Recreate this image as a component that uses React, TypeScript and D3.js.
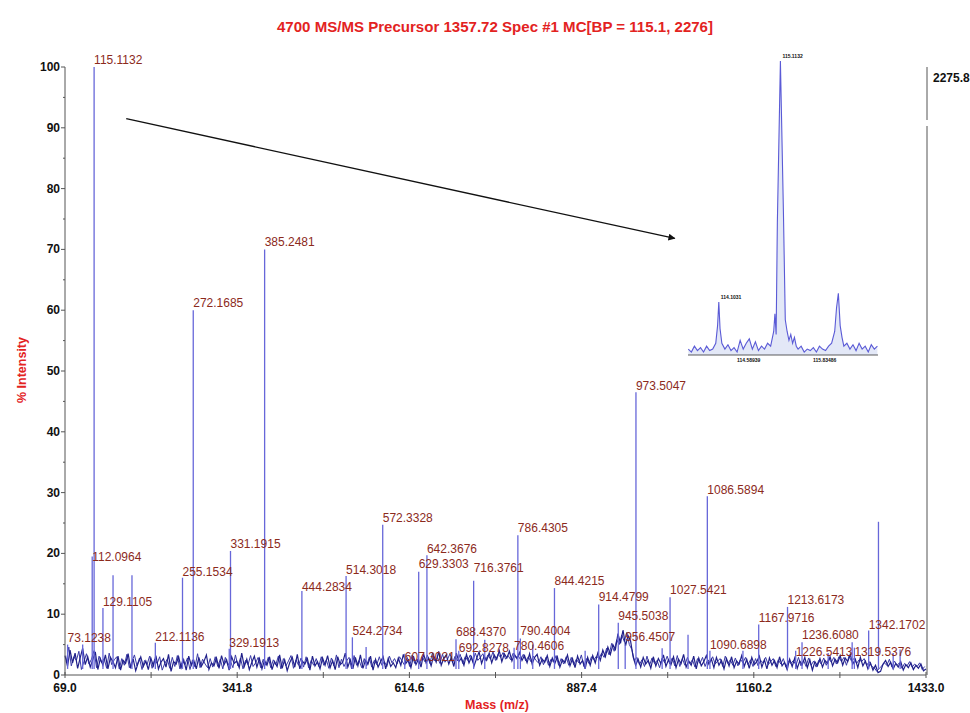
import React from 'react';
import * as d3 from 'd3';

const TITLE = '4700 MS/MS Precursor 1357.72 Spec #1 MC[BP = 115.1, 2276]';
const X_LABEL = 'Mass (m/z)';
const Y_LABEL = '% Intensity';
const X_TICKS = [69.0, 341.8, 614.6, 887.4, 1160.2, 1433.0];
const X_MINOR_STEP = 136.4;
const Y_TICKS = [0, 10, 20, 30, 40, 50, 60, 70, 80, 90, 100];
const MAX_COUNTS = '2275.8';

// baseline noise, one value per 4 m/z starting at 69
const NOISE_START = 69;
const NOISE_STEP = 4;
const noise = [
  3.2, 1.4, 4.1, 2.0, 3.6, 1.1, 2.8, 4.4, 1.7, 3.0, 1.3, 2.5, 3.8, 0.9, 2.7, 1.6, 3.3, 1.0, 2.9, 2.2,
  1.2, 3.1, 0.8, 2.4, 1.9, 3.5, 1.1, 2.6, 0.7, 2.0, 3.0, 1.4, 2.3, 0.9, 2.8, 1.5, 3.2, 1.0, 2.1, 2.7,
  1.3, 3.4, 0.6, 2.2, 1.8, 3.0, 1.2, 2.5, 0.8, 3.1, 1.6, 2.4, 1.0, 2.9, 1.4, 2.2, 3.3, 0.9, 2.0, 1.5,
  2.8, 1.1, 3.2, 1.7, 2.5, 0.8, 3.0, 1.9, 2.3, 1.2, 3.6, 1.4, 2.6, 0.9, 2.1, 3.1, 1.3, 2.7, 1.0, 2.4,
  1.6, 3.0, 0.9, 2.2, 1.4, 3.3, 1.1, 2.5, 0.7, 2.0, 2.9, 1.3, 3.4, 1.0, 2.3, 1.8, 2.7, 0.8, 3.1, 1.5,
  2.2, 1.0, 2.8, 1.6, 3.2, 1.2, 2.4, 0.9, 3.0, 1.7, 2.1, 3.6, 1.3, 2.5, 1.0, 2.9, 1.5, 3.3, 1.1, 2.4,
  1.8, 3.1, 0.8, 2.6, 1.3, 2.2, 3.0, 1.0, 2.7, 1.4, 2.0, 1.2, 2.8, 1.6, 3.4, 1.9, 2.5, 1.2, 3.1, 1.7,
  2.6, 1.3, 3.5, 2.0, 2.8, 1.5, 3.2, 2.1, 3.9, 1.6, 2.7, 3.3, 1.8, 2.9, 1.4, 3.6, 2.2, 2.8, 1.6, 3.4,
  2.0, 3.0, 1.5, 2.7, 3.8, 1.9, 3.1, 2.4, 3.6, 2.0, 3.3, 2.6, 4.0, 2.2, 3.5, 2.8, 3.9, 2.3, 3.4, 2.7,
  3.7, 2.4, 3.2, 2.0, 3.5, 1.8, 2.9, 3.4, 1.6, 2.6, 2.1, 3.2, 1.4, 2.8, 1.9, 3.0, 1.3, 2.5, 2.0, 3.3,
  1.5, 2.7, 1.2, 3.1, 1.8, 2.4, 1.0, 2.9, 1.6, 3.2, 2.0, 3.6, 2.4, 4.1, 3.0, 4.6, 3.4, 5.0, 4.2, 6.8,
  5.2, 7.4, 4.8, 6.5, 5.6, 3.0, 1.6, 2.6, 1.3, 2.9, 1.8, 2.4, 1.1, 3.0, 1.5, 2.7, 1.9, 3.3, 1.4, 2.5,
  1.7, 3.0, 1.2, 2.6, 1.9, 3.4, 1.3, 2.3, 1.6, 3.1, 1.0, 2.8, 1.5, 2.2, 3.2, 1.8, 2.6, 1.2, 2.9, 1.6,
  2.4, 1.0, 2.7, 1.5, 3.0, 1.2, 2.3, 1.8, 3.2, 1.4, 2.6, 1.1, 2.9, 1.7, 2.2, 3.1, 1.3, 2.5, 1.0, 2.8,
  1.6, 2.4, 1.2, 3.0, 1.5, 2.1, 0.9, 2.6, 1.4, 2.8, 1.1, 2.3, 1.7, 2.9, 1.2, 2.5, 0.8, 2.2, 1.5, 2.7,
  1.3, 2.4, 1.9, 3.0, 1.5, 2.6, 2.0, 3.2, 1.6, 2.8, 2.2, 3.4, 1.8, 2.6, 1.2, 2.9, 1.5, 2.3, 1.0, 2.0,
  0.8, 1.6, 0.4, 0.6, 1.8, 2.4, 1.4, 2.1, 1.0, 1.9, 1.3, 2.2, 0.8, 1.7, 1.2, 2.0, 0.9, 1.6, 1.1, 1.8, 0.7, 1.0,
];
// second, interleaved noise trace, one value per 4 m/z starting at 71
const NOISE2_START = 71;
const noise2 = [
  2.1, 4.6, 1.5, 3.0, 2.4, 3.9, 0.9, 2.2, 3.5, 1.8, 2.6, 4.0, 1.2, 3.1, 2.0, 2.7, 1.1, 3.6, 1.7, 2.5,
  3.0, 1.0, 2.7, 1.6, 3.4, 1.2, 2.2, 3.3, 1.5, 2.8, 0.9, 2.4, 1.7, 3.1, 1.1, 2.6, 1.9, 3.0, 0.8, 1.9,
  2.6, 1.1, 2.9, 1.4, 3.2, 1.0, 2.3, 1.7, 2.8, 0.9, 2.5, 1.3, 3.5, 1.2, 2.6, 1.8, 1.2, 2.7, 1.3, 3.0,
  1.4, 2.6, 1.0, 2.9, 1.6, 2.3, 1.2, 3.3, 1.5, 2.8, 1.0, 2.4, 1.7, 3.2, 1.4, 2.0, 2.9, 1.2, 2.6, 1.6,
  2.9, 1.2, 2.5, 1.7, 3.1, 1.0, 2.7, 1.5, 2.3, 3.2, 1.1, 2.5, 1.6, 2.8, 1.3, 3.0, 1.2, 2.4, 1.6, 2.7,
  1.4, 3.0, 1.6, 2.5, 1.1, 2.8, 1.5, 3.3, 1.2, 2.6, 1.4, 2.3, 2.9, 1.0, 3.2, 1.6, 2.4, 1.2, 2.7, 1.5,
  2.9, 1.3, 2.4, 1.7, 3.0, 1.6, 2.2, 1.4, 3.1, 2.0, 2.7, 1.8, 3.0, 2.3, 1.6, 2.9, 1.4, 3.3, 1.9, 2.6,
  1.8, 3.0, 2.2, 3.3, 1.9, 3.6, 2.3, 2.9, 1.9, 3.4, 2.1, 2.6, 3.5, 2.0, 3.1, 2.3, 3.4, 1.9, 3.0, 2.4,
  3.3, 2.1, 3.6, 2.4, 2.9, 3.5, 2.4, 3.3, 2.6, 3.8, 2.4, 3.4, 2.9, 3.7, 2.6, 3.2, 2.5, 3.6, 2.9, 3.1,
  2.5, 3.4, 2.3, 3.0, 2.2, 3.1, 2.4, 2.0, 3.0, 1.7, 2.9, 1.6, 2.6, 2.1, 3.2, 1.6, 2.7, 1.8, 3.0, 1.6,
  2.9, 1.7, 2.6, 2.0, 3.3, 1.4, 2.7, 1.9, 3.0, 2.5, 3.1, 2.7, 3.6, 2.9, 4.4, 3.3, 5.2, 3.9, 5.8, 5.0,
  6.6, 5.5, 7.0, 5.0, 4.2, 2.4, 2.9, 1.7, 2.5, 1.4, 3.1, 1.6, 2.8, 1.9, 2.4, 1.2, 2.8, 2.0, 3.1, 1.8,
  2.8, 1.5, 3.2, 1.4, 2.7, 1.6, 2.9, 1.9, 2.5, 1.3, 2.7, 1.9, 2.9, 1.4, 2.5, 2.1, 3.0, 1.8, 2.3, 2.7,
  1.4, 3.1, 1.9, 2.5, 1.6, 2.8, 1.5, 2.6, 2.0, 2.9, 1.7, 2.5, 1.4, 2.7, 1.5, 2.4, 2.0, 2.9, 1.7, 2.2,
  2.7, 1.4, 2.5, 1.8, 2.7, 1.3, 2.3, 1.9, 2.4, 1.6, 2.9, 1.5, 2.4, 1.4, 2.8, 1.6, 2.3, 1.3, 2.4, 1.8,
  2.8, 1.6, 2.7, 2.1, 2.9, 1.8, 3.0, 2.2, 2.9, 1.6, 3.1, 2.3, 2.7, 1.9, 2.5, 2.2, 2.7, 1.6, 2.2, 1.4,
  1.2, 0.6, 1.1, 1.5, 2.0, 1.6, 2.6, 1.3, 2.3, 1.6, 2.0, 1.1, 1.9, 1.5, 2.2, 1.3, 1.8, 1.4, 2.0, 0.9, 1.4,
];

// labelled peaks: m/z, % intensity, level (in %) at which the software placed the label
const labelledMz = [
  73.1238, 112.0964, 115.1132, 129.1105, 212.1136, 255.1534, 272.1685, 329.1913, 331.1915, 385.2481,
  444.2834, 514.3018, 524.2734, 572.3328, 607.3021, 629.3303, 642.3676, 688.437, 692.8278, 716.3761,
  780.4606, 786.4305, 790.4004, 844.4215, 914.4799, 945.5038, 956.4507, 973.5047, 1027.5421, 1086.5894,
  1090.6898, 1167.9716, 1213.6173, 1226.5413, 1236.608, 1319.5376, 1342.1702,
];
const labelledInt = [
  5.0, 19.5, 100, 11.0, 5.3, 16.0, 60.0, 4.3, 20.4, 70.0,
  13.8, 16.3, 6.2, 24.7, 3.5, 17.0, 19.7, 5.9, 4.0, 15.5,
  4.5, 23.0, 6.0, 14.3, 11.6, 8.6, 5.0, 46.5, 12.8, 29.4,
  4.0, 8.3, 11.2, 4.0, 5.4, 4.5, 7.3,
];
const labelLevel = [
  4.9, 18.2, 100, 10.9, 5.1, 15.8, 60.0, 4.1, 20.4, 70.0,
  13.3, 16.2, 6.1, 24.7, 1.8, 17.1, 19.6, 5.9, 3.3, 16.4,
  3.6, 23.0, 6.1, 14.3, 11.7, 8.6, 5.1, 46.4, 12.8, 29.2,
  3.8, 8.2, 11.2, 2.6, 5.4, 2.6, 7.1,
];
const labelText = [
  '73.1238', '112.0964', '115.1132', '129.1105', '212.1136', '255.1534', '272.1685', '329.1913', '331.1915', '385.2481',
  '444.2834', '514.3018', '524.2734', '572.3328', '607.3021', '629.3303', '642.3676', '688.4370', '692.8278', '716.3761',
  '780.4606', '786.4305', '790.4004', '844.4215', '914.4799', '945.5038', '956.4507', '973.5047', '1027.5421', '1086.5894',
  '1090.6898', '1167.9716', '1213.6173', '1226.5413', '1236.6080', '1319.5376', '1342.1702',
];

// unlabelled peaks
const otherMz = [97, 145.1, 175.1, 546, 734, 810, 893, 1015, 1056, 1143, 1278, 1316, 1357.7, 1381, 1392];
const otherInt = [5.0, 16.4, 16.4, 4.6, 5.8, 5.0, 4.0, 4.4, 6.6, 4.0, 3.6, 5.4, 25.2, 3.6, 4.2];

// zoom inset (115.1132 region)
const insetMz = [
  113.6, 113.65, 113.7, 113.75, 113.8, 113.85, 113.9, 113.95, 114.0, 114.05, 114.08, 114.1, 114.12, 114.15, 114.2,
  114.25, 114.3, 114.35, 114.4, 114.45, 114.5, 114.55, 114.6, 114.65, 114.7, 114.75, 114.8, 114.85, 114.9, 114.95,
  115.0, 115.02, 115.04, 115.06, 115.11, 115.16, 115.19, 115.22, 115.25, 115.28, 115.31, 115.34, 115.37, 115.4,
  115.45, 115.5, 115.55, 115.6, 115.65, 115.7, 115.75, 115.8, 115.85, 115.9, 115.95, 116.0, 116.03, 116.06, 116.09,
  116.12, 116.15, 116.2, 116.25, 116.3, 116.35, 116.4, 116.45, 116.5, 116.55, 116.6, 116.65, 116.7,
];
const insetInt = [
  2, 1, 3, 1.5, 2.5, 1, 3, 1.5, 2, 4, 10, 18, 9, 4, 2,
  3.5, 1.5, 2.5, 1, 5, 2, 4, 5.5, 2, 4.5, 1.5, 3, 2, 4, 3,
  8, 14, 7, 45, 100, 48, 12, 8, 5, 7, 4, 6, 3, 2,
  3, 1, 2, 1.5, 2.5, 1, 3, 2, 1.5, 3, 4, 8, 16, 21, 10,
  6, 3, 4, 2, 3.5, 1.5, 4, 2, 3, 1, 3.5, 2, 3,
];
const insetLabels = ['114.1031', '115.1132'];
const insetLabelMz = [114.1, 115.11];
const insetLabelInt = [18, 100];
const insetTicks = [114.58939, 115.83486];

// arrow, in data units (m/z, %)
const arrowFrom = [166, 91.5];
const arrowTo = [1035, 71.8];

const W = 970;
const H = 713;
const RED = '#e3231f';
const LABEL = '#8c2a1c';
const PEAK = '#6767d9';
const NOISE = '#20208a';
const AXIS = '#555';
const FONT = 'Liberation Sans, Arial, Helvetica, sans-serif';

export default function App() {
  const x = d3.scaleLinear().domain([69, 1433]).range([65, 926]);
  const y = d3.scaleLinear().domain([0, 100]).range([675, 67]);

  const noiseLine = d3
    .line<number>()
    .x((_, i) => x(NOISE_START + i * NOISE_STEP))
    .y((v) => y(v))(noise) as string;
  const noiseLine2 = d3
    .line<number>()
    .x((_, i) => x(NOISE2_START + i * NOISE_STEP))
    .y((v) => y(v))(noise2) as string;

  const minorX = d3.range(0, 11).map((k) => 69 + k * X_MINOR_STEP);
  const minorY = d3.range(5, 100, 10);

  const ix = d3.scaleLinear().domain([113.595, 116.71]).range([688, 878]);
  const iy = d3.scaleLinear().domain([0, 100]).range([355, 61]);
  const insetPts = insetMz.map((m, i) => [m, insetInt[i]] as [number, number]);
  const insetLine = d3
    .line<[number, number]>()
    .x((d) => ix(d[0]))
    .y((d) => iy(d[1]))(insetPts) as string;
  const insetArea = d3
    .area<[number, number]>()
    .x((d) => ix(d[0]))
    .y0(iy(0))
    .y1((d) => iy(d[1]))(insetPts) as string;

  const ax1 = x(arrowFrom[0]);
  const ay1 = y(arrowFrom[1]);
  const ax2 = x(arrowTo[0]);
  const ay2 = y(arrowTo[1]);

  return (
    <svg
      width={W}
      height={H}
      viewBox={`0 0 ${W} ${H}`}
      style={{ position: 'absolute', left: 0, top: 0, background: '#fff', fontFamily: FONT }}
    >
      <defs>
        <marker id="ah" viewBox="0 0 10 10" refX="9" refY="5" markerWidth="9" markerHeight="7" orient="auto" markerUnits="userSpaceOnUse">
          <path d="M0,0 L10,5 L0,10 z" fill="#111" />
        </marker>
      </defs>

      <text x={495} y={32} textAnchor="middle" fill={RED} fontWeight="bold" fontSize={15} textLength={436} lengthAdjust="spacingAndGlyphs">
        {TITLE}
      </text>

      {/* noise */}
      <path d={noiseLine2} fill="none" stroke="#3a3aa6" strokeWidth={1} />
      <path d={noiseLine} fill="none" stroke={NOISE} strokeWidth={1.2} />

      {/* peaks */}
      {otherMz.map((m, i) => (
        <line key={'o' + i} x1={x(m)} x2={x(m)} y1={y(1)} y2={y(otherInt[i])} stroke={PEAK} strokeWidth={1.3} />
      ))}
      {labelledMz.map((m, i) => (
        <line key={'p' + i} x1={x(m)} x2={x(m)} y1={y(1)} y2={y(labelledInt[i])} stroke={PEAK} strokeWidth={1.3} />
      ))}
      {labelledMz.map((m, i) => (
        <text key={'l' + i} x={x(m)} y={y(labelLevel[i]) - 3} fill={LABEL} fontSize={12}>
          {labelText[i]}
        </text>
      ))}

      {/* axes */}
      <line x1={65} x2={65} y1={y(100)} y2={y(0)} stroke={AXIS} strokeWidth={1} />
      <line x1={65} x2={926} y1={y(0)} y2={y(0)} stroke={AXIS} strokeWidth={1} />
      <line x1={927} x2={927} y1={y(100)} y2={120} stroke={AXIS} strokeWidth={1} />
      <line x1={927} x2={927} y1={126} y2={y(0)} stroke={AXIS} strokeWidth={1} />
      {Y_TICKS.map((t) => (
        <g key={'yt' + t}>
          <line x1={61} x2={65} y1={y(t)} y2={y(t)} stroke={AXIS} />
          <text x={60} y={y(t) + 4} textAnchor="end" fontWeight="bold" fontSize={12} fill="#111">
            {t}
          </text>
        </g>
      ))}
      {minorY.map((t) => (
        <line key={'ym' + t} x1={63} x2={65} y1={y(t)} y2={y(t)} stroke={AXIS} />
      ))}
      {minorX.map((t) => (
        <line key={'xm' + t} x1={x(t)} x2={x(t)} y1={y(0) - 3} y2={y(0) + 3} stroke={AXIS} />
      ))}
      {X_TICKS.map((t) => (
        <text key={'xt' + t} x={x(t)} y={y(0) + 17} textAnchor="middle" fontWeight="bold" fontSize={12} fill="#111">
          {t.toFixed(1)}
        </text>
      ))}
      <text x={933} y={82} fontWeight="bold" fontSize={12} fill="#111">
        {MAX_COUNTS}
      </text>

      <text x={497} y={709} textAnchor="middle" fill={RED} fontWeight="bold" fontSize={12.5}>
        {X_LABEL}
      </text>
      <text transform="translate(26,370) rotate(-90)" textAnchor="middle" fill={RED} fontWeight="bold" fontSize={12.5}>
        {Y_LABEL}
      </text>

      {/* arrow */}
      <line x1={ax1} y1={ay1} x2={ax2} y2={ay2} stroke="#111" strokeWidth={1.3} markerEnd="url(#ah)" />

      {/* inset */}
      <path d={insetArea} fill="#e3e8f7" stroke="none" />
      <path d={insetLine} fill="none" stroke="#5a5ad6" strokeWidth={1.1} />
      <line x1={688} x2={878} y1={iy(0)} y2={iy(0)} stroke="#333" strokeWidth={0.8} />
      {insetTicks.map((t) => (
        <text key={'it' + t} x={ix(t)} y={iy(0) + 7} textAnchor="middle" fontWeight="bold" fontSize={5} fill="#111">
          {t.toFixed(5)}
        </text>
      ))}
      {insetLabels.map((l, i) => (
        <text key={'il' + i} x={ix(insetLabelMz[i]) + 2} y={iy(insetLabelInt[i]) - 3} fontWeight="bold" fontSize={5} fill="#111">
          {l}
        </text>
      ))}
    </svg>
  );
}
